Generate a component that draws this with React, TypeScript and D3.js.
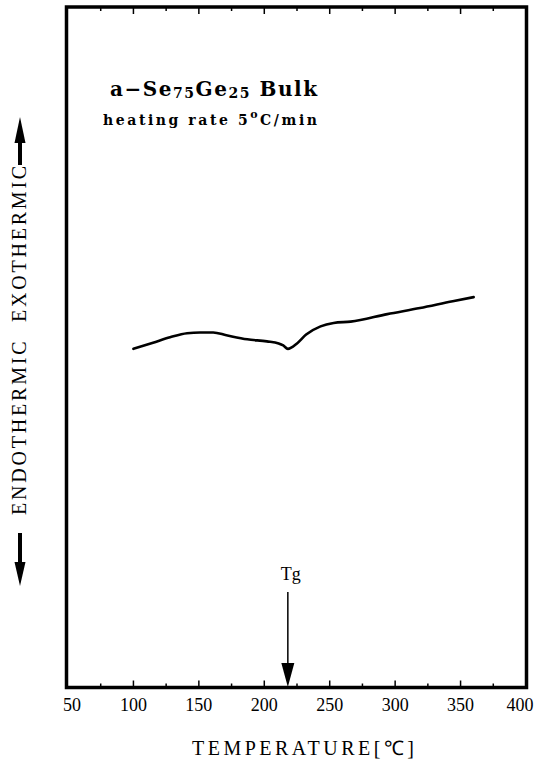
import React from 'react';
import * as d3 from 'd3';

// DSC trace of bulk a-Se75Ge25, heating at 5 °C/min
const temperature = [100, 115, 128, 141, 151, 161, 171, 187, 202, 211, 214.5, 218, 225, 232, 243, 253, 266, 294, 319, 344, 360];
const heatFlow = [4.98, 5.07, 5.15, 5.21, 5.22, 5.22, 5.18, 5.12, 5.09, 5.06, 5.03, 4.98, 5.06, 5.19, 5.31, 5.36, 5.38, 5.49, 5.58, 5.68, 5.74];
const majorTicks = [50, 100, 150, 200, 250, 300, 350, 400];
const minorTicks = [75, 125, 175, 225, 275, 325, 375];
const tgTemperature = 218;

const W = 536;
const H = 766;
const frame = { left: 66.5, right: 526.5, top: 7, bottom: 687.5 };

const serif = '"Liberation Serif", "Times New Roman", serif';
const slab = '"DejaVu Serif", serif';

export default function App() {
  const x = d3.scaleLinear().domain([50, 400]).range([68, 526]);
  const y = d3.scaleLinear().domain([0, 10]).range([688, 7]);

  const pts: [number, number][] = temperature.map((t, i) => [t, heatFlow[i]]);
  const line = d3
    .line<[number, number]>()
    .x((d) => x(d[0]))
    .y((d) => y(d[1]))
    .curve(d3.curveMonotoneX);

  const tgX = x(tgTemperature);
  const labelShift = (v: number) => (v === 50 ? 4 : v === 400 ? -6 : 0);

  return (
    <svg width={W} height={H} style={{ position: 'absolute', left: 0, top: 0, background: '#fff' }}>
      {/* plot frame */}
      <rect
        x={frame.left}
        y={frame.top}
        width={frame.right - frame.left}
        height={frame.bottom - frame.top}
        fill="none"
        stroke="#000"
        strokeWidth={3.5}
      />

      {/* ticks on bottom and top edges */}
      {majorTicks.slice(1, -1).map((v) => (
        <g key={'M' + v}>
          <line x1={x(v)} x2={x(v)} y1={frame.bottom} y2={frame.bottom - 7} stroke="#000" strokeWidth={1.5} />
          <line x1={x(v)} x2={x(v)} y1={frame.top} y2={frame.top + 7} stroke="#000" strokeWidth={1.5} />
        </g>
      ))}
      {minorTicks.map((v) => (
        <g key={'m' + v}>
          <line x1={x(v)} x2={x(v)} y1={frame.bottom} y2={frame.bottom - 4} stroke="#000" strokeWidth={1.5} />
          <line x1={x(v)} x2={x(v)} y1={frame.top} y2={frame.top + 4} stroke="#000" strokeWidth={1.5} />
        </g>
      ))}

      {/* tick labels */}
      {majorTicks.map((v) => (
        <text
          key={'t' + v}
          x={x(v) + labelShift(v)}
          y={711}
          textAnchor="middle"
          fontFamily={serif}
          fontSize={18}
          fill="#000"
        >
          {v}
        </text>
      ))}

      {/* x-axis title */}
      <text x={192} y={755} fontFamily={serif} fontSize={20} textLength={222} lengthAdjust="spacing" fill="#000">
        TEMPERATURE[℃]
      </text>

      {/* y-axis label with direction arrows */}
      <text
        transform="translate(26,163) rotate(-90)"
        textAnchor="end"
        fontFamily={serif}
        fontSize={20}
        letterSpacing={2.8}
        fill="#000"
      >
        EXOTHERMIC
      </text>
      <text
        transform="translate(26,515) rotate(-90)"
        fontFamily={serif}
        fontSize={20}
        letterSpacing={2.8}
        fill="#000"
      >
        ENDOTHERMIC
      </text>
      <line x1={20} x2={20} y1={165} y2={140} stroke="#000" strokeWidth={4} />
      <polygon points="14.5,143 25.5,143 20,117" fill="#000" />
      <line x1={20} x2={20} y1={533} y2={565} stroke="#000" strokeWidth={4} />
      <polygon points="14.5,562 25.5,562 20,586" fill="#000" />

      {/* title */}
      <text x={110} y={96} fontFamily={slab} fontWeight="bold" fontSize={20} textLength={207} lengthAdjust="spacing" fill="#000">
        a−Se<tspan fontSize={14} dy={2}>75</tspan>
        <tspan dy={-2}>Ge</tspan>
        <tspan fontSize={14} dy={2}>25</tspan>
        <tspan dy={-2}> Bulk</tspan>
      </text>
      <text x={103} y={125} fontFamily={slab} fontWeight="bold" fontSize={14} textLength={214} lengthAdjust="spacing" fill="#000">
        heating rate 5<tspan fontSize={11} dy={-7}>o</tspan>
        <tspan dy={7}>C/min</tspan>
      </text>

      {/* DSC curve */}
      <path d={line(pts) ?? ''} fill="none" stroke="#000" strokeWidth={2.6} strokeLinejoin="round" strokeLinecap="round" />

      {/* glass transition marker */}
      <text x={tgX + 3} y={580} textAnchor="middle" fontFamily={serif} fontSize={18} fill="#000">
        Tg
      </text>
      <line x1={tgX} x2={tgX} y1={592} y2={665} stroke="#000" strokeWidth={1.5} />
      <polygon points={`${tgX - 6.5},663 ${tgX + 6.5},663 ${tgX},687`} fill="#000" />
    </svg>
  );
}
